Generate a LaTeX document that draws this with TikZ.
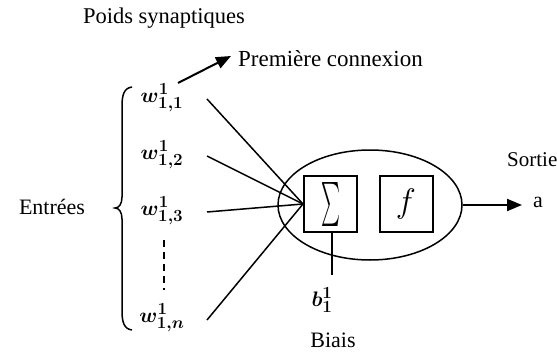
\RequirePackage{fix-cm}
\documentclass[tikz,border=0pt]{standalone}
\usepackage{fontspec}
\usepackage{graphicx}
\setmainfont{Liberation Serif}
\usetikzlibrary{arrows.meta,shapes.geometric}
% larger scripts for the weight labels
\DeclareMathSizes{21}{21}{17}{13}
\begin{document}
\begin{tikzpicture}[x=1pt,y=-1pt,
  lbl/.style={font=\fontsize{22}{26}\selectfont, inner sep=0pt},
  wt/.style={font=\fontsize{21}{25}\selectfont\boldmath, inner sep=0pt},
  wire/.style={line width=1.5pt},
  opbox/.style={draw, line width=2pt, minimum width=53pt, minimum height=56pt, inner sep=0pt},
  arr/.style={line width=2pt, -{Triangle[length=15pt,width=12pt]}}]
\useasboundingbox (0,0) rectangle (557,353);

% titles and labels
\node[lbl, font=\fontsize{22.5}{26}\selectfont] (poids) at (164,18) {Poids synaptiques};
\node[lbl, anchor=west, font=\fontsize{23}{27}\selectfont] (prem) at (238,59) {Première connexion};
\node[lbl] (entrees) at (52,207) {Entrées};
\node[lbl, anchor=west, font=\fontsize{21}{25}\selectfont] (sortie) at (507,160) {Sortie};
\node[lbl] (a) at (538,202) {a};
\node[lbl] (biais) at (333,340) {Biais};

% synaptic weights
\node[wt] (w1) at (162,98)  {$w^{1}_{1,1}$};
\node[wt] (w2) at (162,155) {$w^{1}_{1,2}$};
\node[wt] (w3) at (162,211) {$w^{1}_{1,3}$};
\node[wt] (wn) at (162,318) {$w^{1}_{1,n}$};
\node[wt] (b)  at (322,300) {$b^{1}_{1}$};
\coordinate (d1) at (164,240);
\coordinate (d2) at (164,290);
\draw[wire, dash pattern=on 7pt off 5pt] (d1) -- (d2);

% neuron body
\node[draw, line width=1.5pt, ellipse, minimum width=184pt, minimum height=110pt, inner sep=0pt] (neuron) at (370,205) {};
\node[opbox] (sum) at (330.5,204) {\resizebox{19pt}{33pt}{$\sum$}};
\node[opbox] (f) at (406,204) {\fontsize{34}{38}\selectfont$f$};

% input connexions
\coordinate (s1) at (207,99);
\coordinate (s2) at (207,156);
\coordinate (s3) at (207,212);
\coordinate (sn) at (207,320);
\foreach \s in {s1,s2,s3,sn} \draw[wire] (\s) -- (sum.west);

% bias
\coordinate (bt) at (332,275);
\draw[wire] (sum.south -| bt) -- (bt);

% arrows
\coordinate (p1) at (178,83);
\coordinate (p2) at (231,56);
\draw[arr] (p1) -- (p2);
\coordinate (o2) at (522,205);
\draw[arr] (neuron.east) -- (o2);

% input brace
\draw[line width=1.5pt] (132,87) .. controls (124,88) and (122,95) .. (122,106) -- (122,197)
  .. controls (122,204) and (119,208) .. (115,208)
  .. controls (119,208) and (122,212) .. (122,219) -- (122,311)
  .. controls (122,322) and (124,329) .. (132,330);
\end{tikzpicture}
\end{document}
